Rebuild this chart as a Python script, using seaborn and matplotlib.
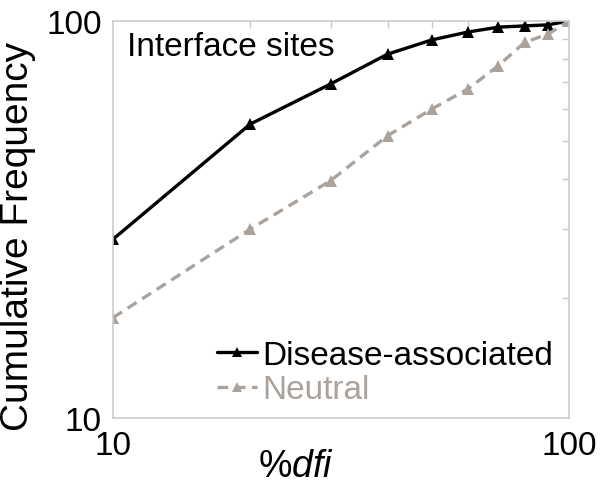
"""
Cumulative frequency of %dfi at interface sites, disease-associated vs neutral.
"""
import pandas as pd
import seaborn as sns
from matplotlib import pyplot as plt
from matplotlib.ticker import LogLocator, NullFormatter, FixedLocator, FixedFormatter

sns.set_theme(style="white")
plt.rcParams['font.family'] = ['Liberation Sans', 'DejaVu Sans']
plt.rcParams['mathtext.fontset'] = 'custom'
plt.rcParams['mathtext.rm'] = 'Liberation Sans'
plt.rcParams['mathtext.it'] = 'Liberation Sans:italic'
plt.rcParams.update({'text.color': 'black', 'axes.labelcolor': 'black'})

# values
dfi = [10, 20, 30, 40, 50, 60, 70, 80, 90, 100]
disease = [28.2, 55.0, 69.4, 82.5, 89.6, 93.8, 96.5, 97.2, 97.8, 100]
neutral = [17.9, 29.9, 39.6, 51.4, 60.0, 67.4, 77.2, 88.4, 92.7, 100]
series_names = ['Disease-associated', 'Neutral']
series_colors = ['#000000', '#aaa29c']

df = pd.concat([
    pd.DataFrame({'dfi': dfi, 'freq': disease, 'group': series_names[0]}),
    pd.DataFrame({'dfi': dfi, 'freq': neutral, 'group': series_names[1]}),
])

fig = plt.figure(figsize=(6.0, 4.89), dpi=100)
ax = fig.add_axes([113 / 600, 1 - 419 / 489, 456 / 600, 397 / 489])

sns.lineplot(data=df, x='dfi', y='freq', hue='group', style='group',
             palette=dict(zip(series_names, series_colors)),
             dashes={series_names[0]: '', series_names[1]: (3.2, 2.0)},
             markers={series_names[0]: '^', series_names[1]: '^'},
             markersize=9, markeredgewidth=0, linewidth=2.4, ax=ax)

ax.set_xscale('log')
ax.set_yscale('log')
ax.set_xlim(10, 100)
ax.set_ylim(10, 100)
for axis in (ax.xaxis, ax.yaxis):
    axis.set_major_locator(FixedLocator([10, 100]))
    axis.set_major_formatter(FixedFormatter(['10', '100']))
    axis.set_minor_locator(LogLocator(base=10, subs=range(2, 10)))
    axis.set_minor_formatter(NullFormatter())
ax.tick_params(which='both', direction='in', top=True, right=True,
               color='#c8c8c8', width=1.0, labelcolor='black')
ax.tick_params(which='major', length=0, labelsize=24, pad=8)
ax.tick_params(which='minor', length=5)
ax.tick_params(axis='x', which='major', pad=9)
for sp in ax.spines.values():
    sp.set_color('#cccccc')
    sp.set_linewidth(1.2)

ax.set_xlabel(r'%$dfi$', fontsize=27)
ax.xaxis.set_label_coords(0.40, -0.075)
ax.set_ylabel('Cumulative Frequency', fontsize=28)
ax.yaxis.set_label_coords(-0.168, 0.46)

ax.text(0.031, 0.935, 'Interface sites', transform=ax.transAxes,
        fontsize=24, ha='left', va='center', color='black')

leg = ax.legend(loc='lower right', bbox_to_anchor=(0.965, 0.032),
                frameon=False, fontsize=24, handlelength=1.2,
                handletextpad=0.15, borderpad=0, borderaxespad=0,
                labelspacing=0.1, labelcolor='linecolor', markerscale=0.8)

fig.savefig('out.png', dpi=100)
